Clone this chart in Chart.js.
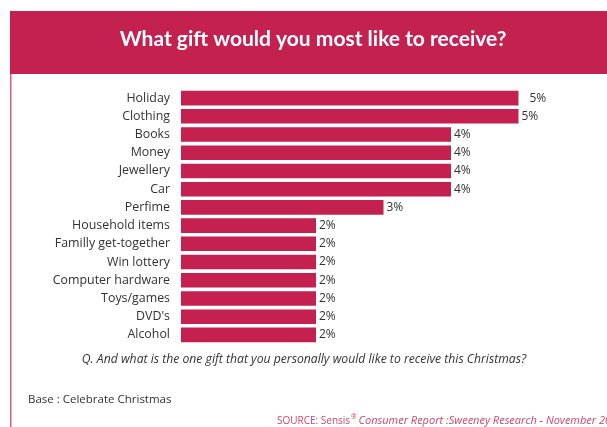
<!DOCTYPE html>
<html>
<head>
<meta charset="utf-8">
<script src="https://cdn.jsdelivr.net/npm/chart.js@4.4.0/dist/chart.umd.min.js"></script>
<style>
  html, body { margin: 0; padding: 0; background: #fff; }
  #wrap { width: 607px; height: 427px; }
</style>
</head>
<body>
<div id="wrap"><canvas id="giftChart" width="607" height="427"></canvas></div>
<script>
// survey answers, top to bottom
const gifts = ['Holiday', 'Clothing', 'Books', 'Money', 'Jewellery', 'Car', 'Perfime',
  'Household items', 'Familly get-together', 'Win lottery', 'Computer hardware',
  'Toys/games', "DVD's", 'Alcohol'];
const shares = [5, 5, 4, 4, 4, 4, 3, 2, 2, 2, 2, 2, 2, 2];

const titleText = 'What gift would you most like to receive?';
const questionText = 'Q. And what is the one gift that you personally would like to receive this Christmas?';
const baseText = 'Base : Celebrate Christmas';

const crimson = '#c42150';
const labelFont = '"Open Sans", sans-serif';

// header band, left rule and the notes under the bars
const frame = {
  id: 'frame',
  beforeDraw(chart) {
    const ctx = chart.ctx;
    ctx.save();
    ctx.fillStyle = '#fff';
    ctx.fillRect(0, 0, chart.width, chart.height);
    ctx.fillStyle = crimson;
    ctx.fillRect(10, 11, chart.width - 10, 63);
    ctx.fillStyle = '#e4577e';
    ctx.fillRect(10, 74, 1.5, chart.height - 74);
    ctx.restore();
  },
  afterDraw(chart) {
    const ctx = chart.ctx;
    ctx.save();
    ctx.textBaseline = 'middle';
    ctx.fillStyle = '#fff';
    ctx.font = 'bold 21px Lato, sans-serif';
    ctx.textAlign = 'center';
    ctx.fillText(titleText, 313, 39);

    ctx.fillStyle = '#333';
    ctx.font = 'italic 12.2px ' + labelFont;
    ctx.fillText(questionText, 304, 360);

    ctx.textAlign = 'left';
    ctx.font = '11.5px ' + labelFont;
    ctx.fillText(baseText, 28, 400);

    // source line runs off the right edge
    ctx.fillStyle = '#d3426c';
    let x = 277;
    ctx.font = '10px ' + labelFont;
    ctx.fillText('SOURCE: Sensis', x, 421);
    x += ctx.measureText('SOURCE: Sensis').width;
    ctx.font = '6.5px ' + labelFont;
    ctx.fillText('®', x + 1, 417);
    x += ctx.measureText('®').width + 3;
    ctx.font = 'italic 11px ' + labelFont;
    ctx.fillText('Consumer Report :Sweeney Research - November 2006', x, 421);
    ctx.restore();
  }
};

// percentage at the end of each bar
const barValues = {
  id: 'barValues',
  afterDatasetsDraw(chart) {
    const ctx = chart.ctx;
    const meta = chart.getDatasetMeta(0);
    ctx.save();
    ctx.fillStyle = '#333';
    ctx.font = '12px ' + labelFont;
    ctx.textAlign = 'left';
    ctx.textBaseline = 'middle';
    meta.data.forEach((bar, i) => {
      // the first label sits a little further out
      const gap = i === 0 ? 11 : 3;
      ctx.fillText(shares[i] + '%', bar.x + gap, bar.y);
    });
    ctx.restore();
  }
};

new Chart(document.getElementById('giftChart'), {
  type: 'bar',
  data: {
    labels: gifts,
    datasets: [{
      data: shares,
      backgroundColor: crimson,
      borderWidth: 0,
      barPercentage: 0.8,
      categoryPercentage: 1
    }]
  },
  options: {
    indexAxis: 'y',
    responsive: false,
    animation: false,
    events: [],
    layout: { padding: { top: 89, bottom: 83, left: 0, right: 21 } },
    plugins: {
      legend: { display: false },
      tooltip: { enabled: false }
    },
    scales: {
      x: {
        display: false,
        min: 0,
        max: 6
      },
      y: {
        afterFit(scale) { scale.width = 181; },
        grid: { display: false, drawTicks: false },
        border: { display: false },
        ticks: {
          padding: 11,
          color: '#333',
          font: { family: labelFont, size: 12.4 }
        }
      }
    }
  },
  plugins: [frame, barValues]
});
</script>
</body>
</html>
